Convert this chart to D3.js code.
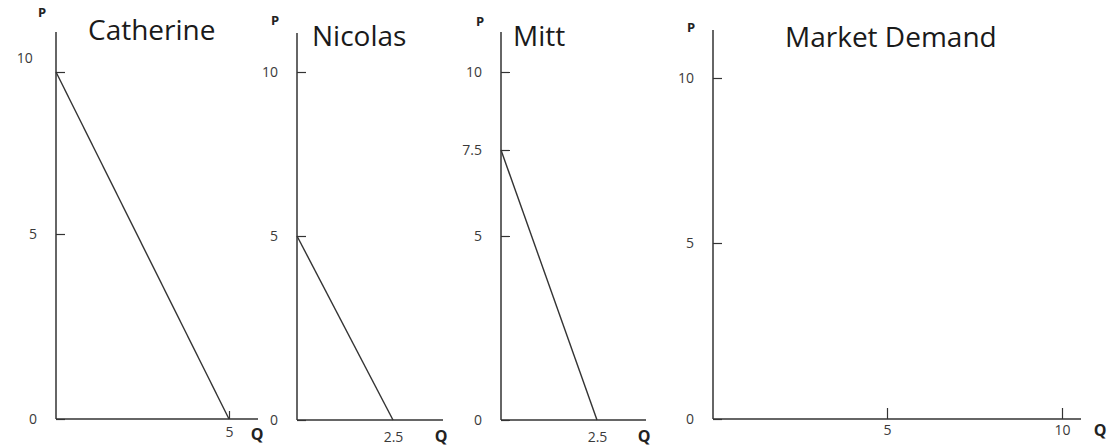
<!DOCTYPE html>
<html>
<head>
<meta charset="utf-8">
<script src="https://cdn.jsdelivr.net/npm/d3@7"></script>
<style>
  body { margin: 0; background: #fff; }
  svg { display: block; }
  .tick text { font-family: "Open Sans", sans-serif; font-size: 14px; fill: #3a3a3a; }
  .title { font-family: "Open Sans", sans-serif; font-size: 28px; fill: #1a1a1a; }
  .axlab { font-family: "Open Sans", sans-serif; font-weight: bold; fill: #222; }
</style>
</head>
<body>
<div id="chart"></div>
<script>
// chart values
const names = ["Catherine", "Nicolas", "Mitt", "Market Demand"]
const yTicks = [[0, 5, 10], [0, 5, 10], [0, 5, 7.5, 10], [0, 5, 10]]
const xTicks = [[5], [2.5], [2.5], [5, 10]]
const xDomains = [[0, 5], [0, 2.5], [0, 2.5], [0, 5, 10]]
const demandQ = [[0, 5], [0, 2.5], [0, 2.5], []]
const demandP = [[10, 0], [5, 0], [7.5, 0], []]

// layout of each hand drawn panel (pixels)
const yRanges = [[419, 234, 72], [420, 236, 72], [420, 236, 150, 72], [419, 243, 78]]
const xRanges = [[56, 229], [297, 393], [501, 597], [713, 887, 1062]]
const axisTop = [32, 33, 32, 30]
const axisEnd = [258, 443, 646, 1081]
const xTickLen = [8, 0, 0, 11]
const xPad = [8, 12, 12, 6]
const titlePos = [[88, 40], [312, 46], [513, 46], [785, 47]]
const pPos = [[42, 17], [275, 25], [480, 26], [691, 32]]
const qPos = [[257, 440], [441, 442], [644, 442], [1100, 436]]

const W = 1112, H = 447
const ink = "#333"
const fmt = d => String(d)

const svg = d3.select("#chart").append("svg").attr("width", W).attr("height", H)

names.forEach(function (name, i) {
    let y = d3.scaleLinear().domain(yTicks[i]).range(yRanges[i])
    let x = d3.scaleLinear().domain(xDomains[i]).range(xRanges[i])
    let g = svg.append("g")

    // axes lines
    g.append("line")
        .attr("x1", x(0)).attr("x2", x(0))
        .attr("y1", axisTop[i]).attr("y2", y(0))
        .attr("stroke", ink).attr("stroke-width", 1.5)
    g.append("line")
        .attr("x1", x(0)).attr("x2", axisEnd[i])
        .attr("y1", y(0)).attr("y2", y(0))
        .attr("stroke", ink).attr("stroke-width", 1.5)

    // y ticks point inwards
    let ya = g.append("g")
        .attr("transform", "translate(" + x(0) + ",0)")
        .call(d3.axisLeft(y).tickValues(yTicks[i]).tickFormat(fmt)
            .tickSizeInner(-9).tickSizeOuter(0).tickPadding(19))
    ya.select(".domain").remove()
    ya.selectAll(".tick line").attr("stroke", ink).attr("stroke-width", 1.2)
    if (i === 0) {
        // the "10" label sits a little higher and further left here
        ya.selectAll(".tick").filter(d => d === 10).select("text").attr("dy", "-0.7em").attr("dx", "-0.3em")
    }

    let xa = g.append("g")
        .attr("transform", "translate(0," + y(0) + ")")
        .call(d3.axisBottom(x).tickValues(xTicks[i]).tickFormat(fmt)
            .tickSizeInner(-xTickLen[i]).tickSizeOuter(0).tickPadding(xPad[i]))
    xa.select(".domain").remove()
    xa.selectAll(".tick line").attr("stroke", ink).attr("stroke-width", 1.2)

    // demand curve
    let pts = demandQ[i].map((q, k) => [x(q), y(demandP[i][k])])
    if (pts.length) {
        g.append("path")
            .attr("d", d3.line()(pts))
            .attr("fill", "none")
            .attr("stroke", ink)
            .attr("stroke-width", 1.4)
    }

    g.append("text").attr("class", "title")
        .attr("x", titlePos[i][0]).attr("y", titlePos[i][1])
        .text(name)
    g.append("text").attr("class", "axlab")
        .attr("x", pPos[i][0]).attr("y", pPos[i][1])
        .attr("text-anchor", "middle").style("font-size", "13px")
        .text("P")
    g.append("text").attr("class", "axlab")
        .attr("x", qPos[i][0]).attr("y", qPos[i][1])
        .attr("text-anchor", "middle").style("font-size", "16px")
        .text("Q")
})
</script>
</body>
</html>
